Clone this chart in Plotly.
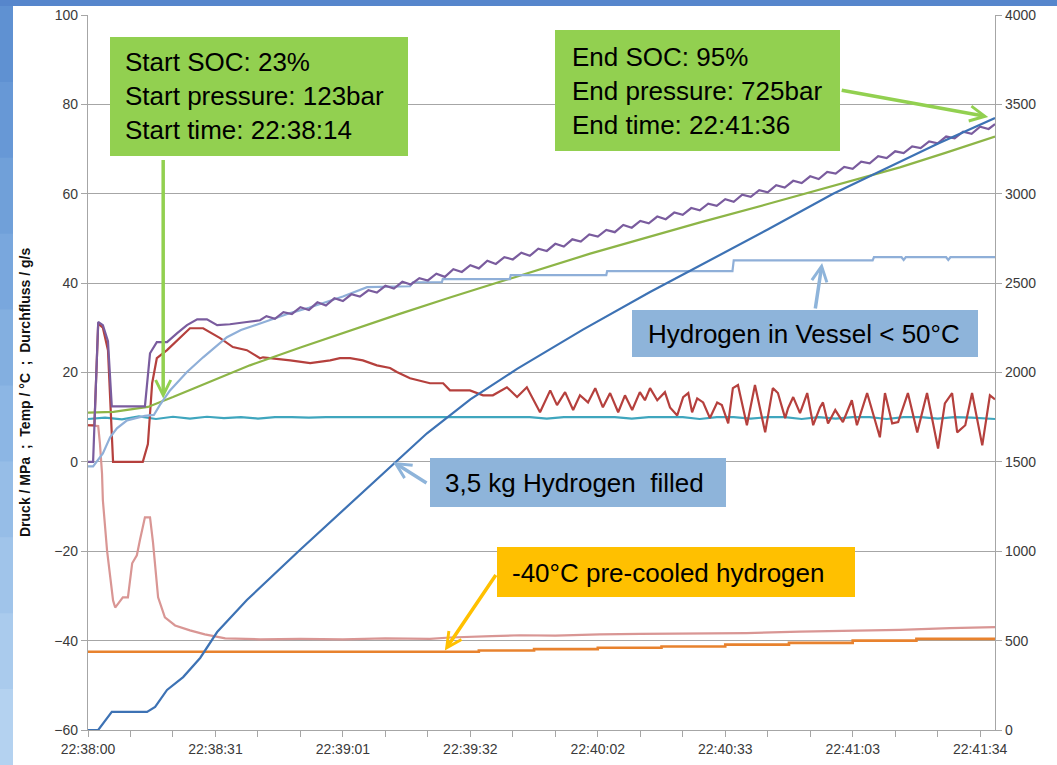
import plotly.graph_objects as go

# ---------------- data ----------------
tick_labels = ["22:38:00", "22:38:31", "22:39:01", "22:39:32",
               "22:40:02", "22:40:33", "22:41:03", "22:41:34"]
samples_per_label = 30
n_samples = 213.5

# purple (left axis)
purple_idx = [0, 1.2, 2.4, 3.5, 4.7, 5.6, 13.4, 14.6, 16.2, 18.6, 21.0, 23.3, 25.7, 28.0, 30.4, 33.4, 37.4, 40.5] \
    + list(range(42, 213, 2)) + [213.5]
purple_val = [0, 0, 31.3, 30.6, 27.0, 12.4, 12.4, 24.3, 26.8, 26.8, 28.8, 30.6, 31.9, 31.9, 30.6, 30.8, 31.3, 31.7,
              32.6, 32.0, 33.5, 33.1, 34.6, 34.0, 35.7, 35.0, 36.6, 36.0,
              37.5, 37.0, 38.4, 37.9, 39.4, 38.8, 40.3, 39.7, 41.1, 40.6,
              42.1, 41.4, 43.1, 42.5, 44.0, 43.3, 45.0, 44.3, 45.8, 45.3,
              46.8, 46.1, 47.7, 47.2, 48.8, 48.2, 49.8, 49.3, 50.9, 50.4,
              51.9, 51.4, 53.0, 52.4, 53.9, 53.4, 54.9, 54.3, 55.8, 55.3,
              56.8, 56.3, 57.8, 57.3, 58.8, 58.2, 59.8, 59.3, 60.8, 60.3,
              61.9, 61.4, 62.9, 62.4, 63.9, 63.3, 64.9, 64.5, 66.0, 65.6,
              67.2, 66.8, 68.4, 68.0, 69.5, 69.1, 70.6, 70.2, 71.7, 71.3,
              72.8, 72.4, 73.9, 73.4, 75.0, 74.5, 75.6]

# dark red (left axis)
red_idx = [0, 1.5, 2.4, 3.5, 4.7, 5.9, 12.9, 14.1, 15.1, 16.2,
           18.6, 21.7, 24.0, 27.1, 31.1, 34.1, 37.4, 40.5, 41.2, 47.6,
           52.3, 57.0, 59.3, 61.7, 64.7, 68.0, 71.1, 72.7, 75.8, 80.5,
           83.6, 85.2, 89.9, 93.0, 95.3, 98.6, 101.0, 103.3, 106.4, 108.8,
           110.4, 112.3, 114.2, 115.8, 117.7, 119.4, 121.2, 122.9, 124.8, 126.4,
           128.1, 129.9, 131.1, 132.3, 134.0, 135.8, 137.0, 138.7, 140.1, 141.3,
           142.2, 143.4, 144.8, 146.4, 148.1, 149.2, 150.7, 151.8, 153.0, 155.1,
           157.0, 159.4, 161.2, 162.4, 164.1, 164.8, 166.0, 167.6, 169.3, 170.7,
           172.3, 173.0, 174.2, 175.9, 177.7, 179.8, 181.0, 183.4, 186.4, 187.6,
           189.3, 190.7, 193.0, 195.2, 197.5, 200.1, 201.7, 203.4, 204.6, 206.5,
           208.1, 210.5, 212.3, 213.5]
red_val = [8.2, 8.2, 31.0, 30.0, 25.0, 0.0, 0.0, 4.0, 17.6, 23.2,
           25.0, 27.7, 29.9, 29.9, 27.7, 25.7, 25.0, 23.2, 23.4, 22.7,
           22.1, 22.7, 23.2, 23.2, 22.7, 21.6, 21.0, 20.1, 18.7, 17.6,
           17.6, 16.0, 16.0, 14.9, 14.9, 16.7, 14.5, 16.7, 11.1, 16.0,
           12.7, 15.6, 11.6, 14.9, 13.3, 16.5, 12.2, 15.4, 11.1, 14.9,
           11.6, 15.6, 13.8, 16.5, 13.8, 15.6, 12.2, 10.4, 14.5, 15.4,
           11.1, 14.2, 13.3, 9.8, 13.3, 12.7, 8.6, 16.5, 17.2, 8.2,
           17.2, 6.6, 16.5, 15.4, 9.8, 12.0, 14.5, 10.9, 15.4, 8.2,
           12.2, 13.3, 8.6, 11.6, 8.9, 13.8, 8.2, 15.4, 5.5, 15.4,
           8.6, 8.9, 15.4, 6.6, 15.4, 3.0, 13.1, 15.4, 6.6, 8.2,
           15.4, 3.7, 14.9, 14.0]

# pale red (left axis)
pink_idx = [0, 2.4, 2.8, 3.3, 3.5, 4.5, 5.9, 6.4, 8.2, 9.4, 10.4, 11.5, 12.2, 13.4, 14.6, 15.3,
            16.5, 18.1, 20.5, 24.0, 27.5, 32.3, 40.5, 50, 60, 70, 80.5, 85.2, 95, 101.7, 110,
            120.5, 130, 144.1, 155, 167.6, 179.4, 191.1, 202.9, 213.5]
pink_val = [8.2, 8.0, 4.2, -2.6, -8.6, -20.0, -31.0, -32.6, -30.3, -30.3, -22.7, -20.9, -17.6, -12.4, -12.4, -18.0,
            -30.3, -34.8, -36.6, -37.7, -38.6, -39.5, -39.7, -39.6, -39.7, -39.5, -39.6, -39.3, -39.0, -38.8, -38.9,
            -38.6, -38.5, -38.4, -38.3, -38.0, -37.8, -37.6, -37.2, -37.0]

# orange (left axis)
orange_idx = [0, 92, 105, 120, 135, 150, 165, 180, 195, 213.5]
orange_val = [-42.5, -42.2, -41.9, -41.6, -41.3, -40.9, -40.5, -40.0, -39.6, -39.6]

# teal (left axis)
teal_idx = list(range(0, 213, 4)) + [213.5]
teal_val = [9.6, 9.9, 9.5, 10.2, 9.6, 10.1, 9.7, 10.1, 9.8, 10.0,
            9.7, 10.0, 10.0, 9.9, 10.0, 10.0, 10.0, 10.0, 10.0, 10.0,
            10.0, 10.0, 10.0, 10.0, 10.0, 10.0, 10.0, 9.7, 10.0, 10.0,
            10.0, 10.0, 9.7, 10.0, 10.0, 10.0, 9.6, 10.0, 10.0, 9.7,
            10.0, 10.0, 9.6, 10.0, 9.7, 10.0, 10.0, 9.6, 10.0, 10.0,
            9.7, 10.0, 9.9, 9.6, 9.6]

# green (left axis)
green_idx = [0, 6, 14.1, 16.9, 20, 25, 30, 35, 38.1, 50, 61.7, 73, 85.2, 100, 118.2,
             130, 144.1, 160, 175, 191.1, 202, 213.5]
green_val = [11.0, 11.2, 12.3, 13.3, 14.5, 16.5, 18.4, 20.4, 21.6, 25.6, 29.4, 33.0, 36.8, 41.2, 46.6,
             49.8, 53.6, 57.7, 61.6, 65.9, 69.2, 72.8]

# light blue (left axis)
lblue_idx = [0, 1.2, 3.5, 5.2, 6.8, 9.2, 12.2, 13.4, 15.5, 16.9,
             19.3, 23.3, 27.1, 32.7, 36, 40.5, 44, 47.6, 52, 56,
             60, 65.7, 75.8, 76.5, 83.3, 83.5, 99.3, 99.5, 122.0, 122.2,
             151.7, 152.0, 184.7, 185.0, 191.5, 192.0, 192.5, 202.0, 202.5, 203.0,
             213.5]
lblue_val = [-1.0, -1.0, 1.9, 5.5, 7.5, 9.3, 10.0, 10.3, 10.5, 12.7,
             16.0, 20.1, 23.4, 27.9, 29.5, 31.0, 32.0, 33.3, 34.5, 35.8,
             37.0, 39.1, 39.3, 40.2, 40.2, 40.9, 40.9, 41.8, 41.8, 42.7,
             42.7, 45.1, 45.1, 45.8, 45.8, 45.2, 45.8, 45.8, 45.2, 45.8,
             45.8]

# dark blue: filled mass in g (right axis)
blue_idx = [0, 2.4, 5.6, 13.9, 15.8, 18.6, 22.4, 26.4, 30.4, 34.1, 37.4, 50, 62, 72, 79.8,
            90, 101, 116.5, 132.3, 143.4, 160, 175.4, 187.1, 200, 213.5]
blue_g = [0, 0, 101, 101, 129, 224, 296, 403, 548, 643, 727, 1010, 1270, 1490, 1660,
          1850, 2020, 2240, 2450, 2590, 2800, 3000, 3135, 3280, 3424]

# ---------------- geometry helpers (styling only) ----------------
W, H = 1057, 765
L, R, T, B = 88, 62, 15, 35
PW, PH = W - L - R, H - T - B


def px(xp):
    return (xp - L) / PW


def py(yp):
    return (H - B - yp) / PH


fig = go.Figure()


def add_line(x, y, color, width=2.2, yaxis="y", shape="linear"):
    fig.add_trace(go.Scatter(x=x, y=y, mode="lines", yaxis=yaxis,
                             line=dict(color=color, width=width, shape=shape),
                             showlegend=False, hoverinfo="skip"))


add_line(pink_idx, pink_val, "#D99694")
add_line(orange_idx, orange_val, "#E8822E", width=2.6, shape="hv")
add_line(teal_idx, teal_val, "#3FA6BE")
add_line(red_idx, red_val, "#B5403D")
add_line(green_idx, green_val, "#8DB547")
add_line(lblue_idx, lblue_val, "#8FAFD8")
add_line(purple_idx, purple_val, "#7A5C9E")
add_line(blue_idx, blue_g, "#3D72B4", yaxis="y2")

# ---------------- background decoration ----------------
shapes = []
shapes.append(dict(type="rect", xref="paper", yref="paper", x0=px(13), x1=px(W + 5), y0=py(H + 5), y1=py(6),
                   fillcolor="white", line=dict(width=0), layer="below"))
band_cols = ["#5f91d2", "#6798d6", "#70a0d9", "#79a7dd", "#83afe0", "#8cb6e4",
             "#96bde7", "#a0c4ea", "#aacbed", "#b4d2f0"]
nb = len(band_cols)
for i, c in enumerate(band_cols):
    y_top = 6 + i * (H - 6) / nb
    y_bot = 6 + (i + 1) * (H - 6) / nb
    shapes.append(dict(type="rect", xref="paper", yref="paper", x0=px(-2), x1=px(13), y0=py(y_bot + 1), y1=py(y_top),
                       fillcolor=c, line=dict(width=0), layer="below"))
shapes.append(dict(type="rect", xref="paper", yref="paper", x0=px(-2), x1=px(W + 5), y0=py(6), y1=py(-3),
                   fillcolor="#5686cc", line=dict(width=0), layer="below"))

# callout boxes
boxes = [
    (110, 37, 408, 156, "#92D050"),
    (555, 30, 840, 151, "#92D050"),
    (632, 310, 978, 357, "#8EB4DA"),
    (430, 458, 726, 507, "#8EB4DA"),
    (497, 547, 855, 597, "#FFC000"),
]
for x0, y0, x1, y1, c in boxes:
    shapes.append(dict(type="rect", xref="paper", yref="paper", x0=px(x0), x1=px(x1), y0=py(y1), y1=py(y0),
                       fillcolor=c, line=dict(width=0), layer="above"))

annotations = []
box_texts = [
    (123, 96, "Start SOC: 23%<br>Start pressure: 123bar<br>Start time: 22:38:14"),
    (570, 91, "End SOC: 95%<br>End pressure: 725bar<br>End time: 22:41:36"),
    (646, 334, "Hydrogen in Vessel &lt; 50°C"),
    (443, 483, "3,5 kg Hydrogen  filled"),
    (510, 573, "-40°C pre-cooled hydrogen"),
]
for x, y, t in box_texts:
    annotations.append(dict(xref="paper", yref="paper", x=px(x), y=py(y), text=t, showarrow=False,
                            xanchor="left", yanchor="middle", align="left",
                            font=dict(family="Liberation Sans, Arial", size=26, color="black")))

# arrows (head in data coordinates, tail offset in px)
arrows = [
    (17.7, 14.2, 0, -240, "#92D050"),
    (211.9, 77.2, -148, -27, "#92D050"),
    (172.8, 44.5, -7, 47, "#8EB4DA"),
    (71.8, 0.0, 35, 22, "#8EB4DA"),
    (84.0, -42.2, 52, -77, "#FFC000"),
]
for x, y, ax, ay, c in arrows:
    annotations.append(dict(x=x, y=y, xref="x", yref="y", ax=ax, ay=ay, text="", showarrow=True,
                            arrowhead=5, arrowsize=0.85, arrowwidth=3.5, arrowcolor=c, standoff=0))

annotations.append(dict(xref="paper", yref="paper", x=px(25), y=py(393), text="Druck / MPa  ;  Temp / °C  ;  Durchfluss / g/s",
                        showarrow=False, textangle=-90, xanchor="center", yanchor="middle",
                        font=dict(family="Liberation Sans, Arial", size=14, color="#111111", weight="bold")))

grid = "#a6a6a6"
tick_font = dict(family="Liberation Sans, Arial", size=14, color="#3a3a3a")

fig.update_layout(
    width=W, height=H,
    margin=dict(l=L, r=R, t=T, b=B, autoexpand=False),
    paper_bgcolor="#5a8ccf",
    plot_bgcolor="white",
    shapes=shapes,
    annotations=annotations,
    xaxis=dict(range=[0, n_samples], tickmode="array", automargin=False,
               tickvals=[i * samples_per_label for i in range(len(tick_labels))], ticktext=tick_labels,
               ticks="outside", ticklen=6, tickcolor=grid, tickwidth=1.3,
               minor=dict(tickmode="linear", tick0=0, dtick=samples_per_label / 3, ticks="outside",
                          ticklen=6, tickcolor=grid, tickwidth=1.3, showgrid=False),
               showgrid=False, zeroline=False, showline=True, linecolor=grid, linewidth=1.3,
               tickfont=tick_font),
    yaxis=dict(range=[-60, 100], tick0=-60, dtick=20, showgrid=True, gridcolor=grid, gridwidth=1.3,
               zeroline=False, showline=True, linecolor=grid, linewidth=1.3, automargin=False,
               ticks="outside", ticklen=6, tickcolor=grid, tickwidth=1.3, tickfont=tick_font),
    yaxis2=dict(range=[0, 4000], dtick=500, overlaying="y", side="right", showgrid=False, zeroline=False,
                showline=True, linecolor=grid, linewidth=1.3, automargin=False,
                ticks="outside", ticklen=6, tickcolor=grid, tickwidth=1.3, tickfont=tick_font),
)

fig.write_html("out.html", config={"displayModeBar": False},
               post_script="document.body.style.margin='0';document.body.style.overflow='hidden';")
